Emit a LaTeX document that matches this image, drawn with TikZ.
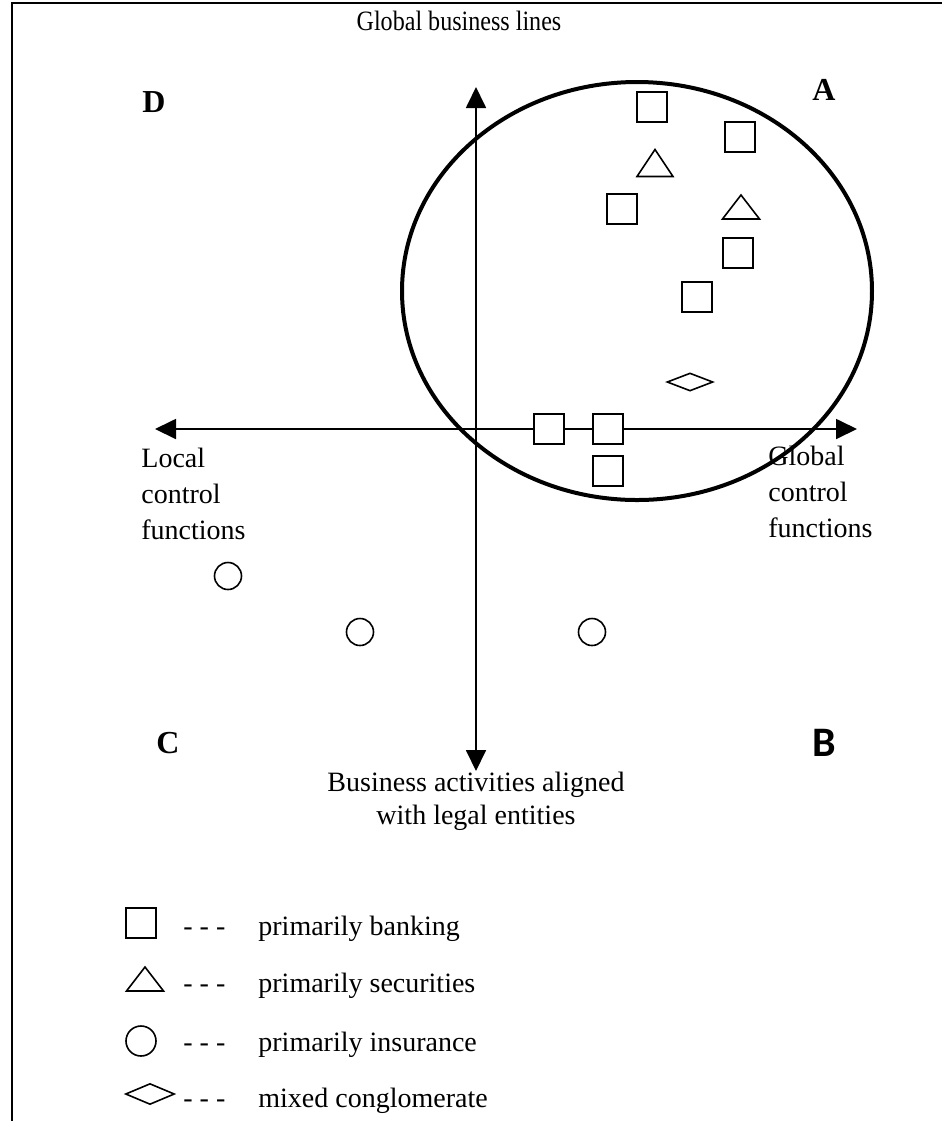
\documentclass[tikz,border=0pt]{standalone}
\usepackage{fontspec}
\setmainfont{Liberation Serif}
\newfontfamily\bfont{Carlito}
\newfontfamily\narrowfont{Liberation Serif}[FakeStretch=0.86]
\usetikzlibrary{arrows.meta,shapes.geometric}
\begin{document}
\begin{tikzpicture}[x=0.5pt,y=-0.5pt,
  sq/.style={draw,fill=white,line width=0.8pt,minimum size=15pt,inner sep=0pt},
  circ/.style={draw,fill=white,circle,line width=0.8pt,minimum size=13.5pt,inner sep=0pt},
  dia/.style={draw,fill=white,diamond,line width=0.8pt,minimum width=23pt,minimum height=9pt,inner sep=0pt},
  axisline/.style={line width=0.9pt,{Triangle[length=10.5pt,width=10pt]}-{Triangle[length=10.5pt,width=10pt]}},
  lbl/.style={font=\fontsize{14}{18}\selectfont,inner sep=0pt},
  quadlbl/.style={font=\fontsize{16}{18}\selectfont\bfseries,inner sep=0pt},
  tri/.pic={\draw[line width=0.8pt,fill=white] (-18,13.5) -- (0,-13.5) -- (18,13.5) -- cycle;},
  trismall/.pic={\draw[line width=0.8pt,fill=white] (-18.5,12) -- (0,-12) -- (18.5,12) -- cycle;}
]
\useasboundingbox (0,0) rectangle (942,1121);
% frame
\draw[line width=1pt] (11,3) -- (942,3);
\draw[line width=1.4pt] (12,3) -- (12,1121);

% axes
\coordinate (vt) at (476,87);
\coordinate (vb) at (476,771);
\coordinate (hl) at (155,429);
\coordinate (hr) at (857,429);
\draw[axisline] (vb) -- (vt);
\draw[axisline] (hl) -- (hr);

% ellipse
\node[draw,ellipse,line width=2pt,minimum width=235pt,minimum height=209pt,inner sep=0pt] (cluster) at (637,291) {};

% axis labels
\node[font=\narrowfont\fontsize{14}{18}\selectfont,inner sep=0pt,anchor=base] (ytop) at (459,30) {Global business lines};
\node[lbl,anchor=base] (ybot1) at (476,791) {Business activities aligned};
\node[lbl,anchor=base] (ybot2) at (476,824) {with legal entities};
\node[lbl,anchor=base west] (xl1) at (141,467) {Local};
\node[lbl,anchor=base west] (xl2) at (141,503) {control};
\node[lbl,anchor=base west] (xl3) at (141,539) {functions};
\node[lbl,anchor=base west] (xr1) at (768,465) {Global};
\node[lbl,anchor=base west] (xr2) at (768,501) {control};
\node[lbl,anchor=base west] (xr3) at (768,537) {functions};

% quadrant letters
\node[quadlbl] (qD) at (154,102) {D};
\node[quadlbl] (qA) at (824,90) {A};
\node[quadlbl] (qC) at (168,743) {C};
\node[font=\bfont\fontsize{21}{24}\selectfont\bfseries,inner sep=0pt] (qB) at (824,743) {B};

% banking
\node[sq] (b1) at (652,107) {};
\node[sq] (b2) at (740,137) {};
\node[sq] (b3) at (622,209) {};
\node[sq] (b4) at (738,253) {};
\node[sq] (b5) at (697,297) {};
\node[sq] (b6) at (549,429) {};
\node[sq] (b7) at (608,429) {};
\node[sq] (b8) at (608,471) {};
% securities
\pic (s1) at (655,163) {tri};
\pic (s2) at (741,207) {trismall};
% mixed
\node[dia] (m1) at (690,382) {};
% insurance
\node[circ] (i1) at (228,576) {};
\node[circ] (i2) at (360,632) {};
\node[circ] (i3) at (592,632) {};

% legend
\node[sq] (lgb) at (141,923) {};
\pic (lgs) at (145,979) {trismall};
\node[circ,minimum size=15pt] (lgi) at (141,1041) {};
\node[dia,minimum width=24.5pt,minimum height=10.5pt] (lgm) at (150,1094) {};
\foreach \yy/\nm in {935/d1,992/d2,1051/d3,1107/d4}{
  \node[lbl,anchor=base west] (\nm) at (183,\yy) {-{}\kern3.5pt-{}\kern3.5pt-};
}
\node[lbl,anchor=base west] (t1) at (258,935) {primarily banking};
\node[lbl,anchor=base west] (t2) at (258,992) {primarily securities};
\node[lbl,anchor=base west] (t3) at (258,1051) {primarily insurance};
\node[lbl,anchor=base west] (t4) at (258,1107) {mixed conglomerate};
\end{tikzpicture}
\end{document}
